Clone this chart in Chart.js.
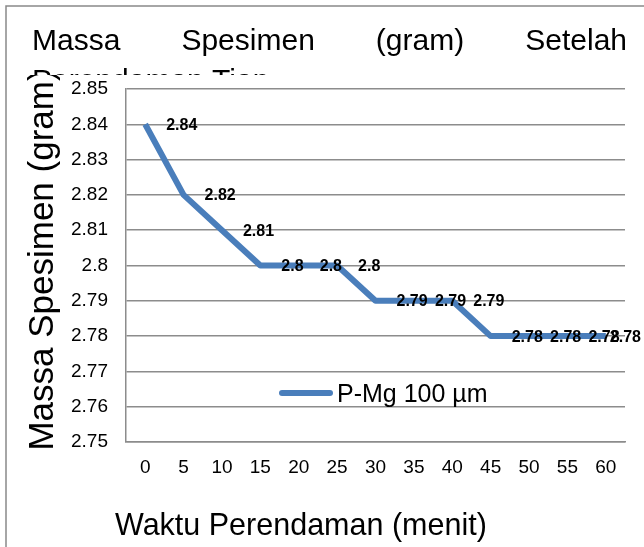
<!DOCTYPE html>
<html>
<head>
<meta charset="utf-8">
<script src="https://cdn.jsdelivr.net/npm/chart.js@4.4.1/dist/chart.umd.min.js"></script>
<style>
  html, body { margin: 0; padding: 0; background: #fff; }
  canvas { display: block; }
</style>
</head>
<body>
<canvas id="chart" width="644" height="547"></canvas>
<script>
// Chart data
var categories = ['0', '5', '10', '15', '20', '25', '30', '35', '40', '45', '50', '55', '60'];
var massValues = [2.84, 2.82, 2.81, 2.8, 2.8, 2.8, 2.79, 2.79, 2.79, 2.78, 2.78, 2.78, 2.78];
var yTickValues = [2.75, 2.76, 2.77, 2.78, 2.79, 2.8, 2.81, 2.82, 2.83, 2.84, 2.85];
var yTickLabels = ['2.75', '2.76', '2.77', '2.78', '2.79', '2.8', '2.81', '2.82', '2.83', '2.84', '2.85'];
var seriesName = 'P-Mg 100 µm';
var titleLine1 = ['Massa', 'Spesimen', '(gram)', 'Setelah'];
var titleLine2 = 'Perendaman Tiap';
var xTitle = 'Waktu Perendaman (menit)';
var yTitle = 'Massa Spesimen (gram)';

var FONT = '"Liberation Sans", Arial, sans-serif';
var LINE_COLOR = '#4a7ebb';
var GRID_COLOR = '#8c8c8c';

// Title, cover and frame drawn before the chart
var backgroundPlugin = {
    id: 'background',
    beforeDraw: function (chart) {
        var ctx = chart.ctx;
        ctx.save();
        ctx.fillStyle = '#fff';
        ctx.fillRect(0, 0, chart.width, chart.height);

        // justified first title line
        ctx.fillStyle = '#000';
        ctx.font = '30px ' + FONT;
        ctx.textBaseline = 'alphabetic';
        ctx.textAlign = 'left';
        var left = 32, right = 627;
        var total = 0;
        titleLine1.forEach(function (w) { total += ctx.measureText(w).width; });
        var gap = (right - left - total) / (titleLine1.length - 1);
        var x = left;
        titleLine1.forEach(function (w) {
            ctx.fillText(w, x, 50);
            x += ctx.measureText(w).width + gap;
        });
        ctx.fillText(titleLine2, left, 90);

        // plot area covers the second line
        ctx.fillStyle = '#fff';
        ctx.fillRect(8, 75, chart.width - 8, chart.height - 75);

        // outer frame
        ctx.strokeStyle = '#898989';
        ctx.lineWidth = 1.5;
        ctx.beginPath();
        ctx.moveTo(6, chart.height);
        ctx.lineTo(6, 6);
        ctx.lineTo(chart.width, 6);
        ctx.stroke();
        ctx.restore();
    }
};

// Data labels, legend and axis titles
var overlayPlugin = {
    id: 'overlay',
    afterDraw: function (chart) {
        var ctx = chart.ctx;
        var meta = chart.getDatasetMeta(0);
        ctx.save();

        ctx.fillStyle = '#000';
        ctx.font = 'bold 16px ' + FONT;
        ctx.textAlign = 'left';
        ctx.textBaseline = 'middle';
        meta.data.forEach(function (pt, i) {
            var txt = String(chart.data.datasets[0].data[i]);
            var w = ctx.measureText(txt).width;
            // keep label inside the chart like Excel does
            var lx = Math.min(pt.x + 21, 641 - w);
            ctx.fillText(txt, lx, pt.y + 1);
        });

        // legend inside plot
        ctx.strokeStyle = chart.data.datasets[0].borderColor;
        ctx.lineWidth = 6;
        ctx.lineCap = 'round';
        ctx.beginPath();
        ctx.moveTo(282, 393);
        ctx.lineTo(330, 393);
        ctx.stroke();
        ctx.font = '25px ' + FONT;
        ctx.textBaseline = 'alphabetic';
        ctx.fillText(chart.data.datasets[0].label, 337, 402);

        // x title
        ctx.font = '30.5px ' + FONT;
        ctx.fillText(xTitle, 115, 535);

        // y title, clipped at the top like the reference
        ctx.beginPath();
        ctx.rect(0, 75, 120, chart.height - 75);
        ctx.clip();
        ctx.translate(53, 260);
        ctx.rotate(-Math.PI / 2);
        ctx.textAlign = 'center';
        ctx.font = '35px ' + FONT;
        ctx.fillText(yTitle, 0, 0);
        ctx.restore();
    }
};

var canvas = document.getElementById('chart');
new Chart(canvas.getContext('2d'), {
    type: 'line',
    data: {
        labels: categories,
        datasets: [{
            label: seriesName,
            data: massValues,
            borderColor: LINE_COLOR,
            backgroundColor: LINE_COLOR,
            borderWidth: 6,
            borderJoinStyle: 'round',
            tension: 0,
            pointRadius: 0,
            fill: false
        }]
    },
    options: {
        responsive: false,
        animation: false,
        layout: { padding: { left: 0, top: 89, right: 19, bottom: 0 } },
        plugins: {
            legend: { display: false },
            title: { display: false },
            tooltip: { enabled: false }
        },
        scales: {
            x: {
                offset: true,
                grid: { display: false, drawTicks: false },
                border: { display: true, color: GRID_COLOR, width: 1.5 },
                ticks: {
                    color: '#000',
                    font: { family: FONT, size: 19 },
                    padding: 14,
                    maxRotation: 0,
                    autoSkip: false
                },
                afterFit: function (scale) { scale.height = 105; }
            },
            y: {
                min: 2.75,
                max: 2.85,
                grid: { color: GRID_COLOR, lineWidth: 1.5, drawTicks: false },
                border: { display: true, color: GRID_COLOR, width: 1.5 },
                ticks: {
                    color: '#000',
                    font: { family: FONT, size: 19 },
                    padding: 18,
                    callback: function (value, index) { return yTickLabels[index]; }
                },
                afterBuildTicks: function (scale) {
                    scale.ticks = yTickValues.map(function (v) { return { value: v }; });
                },
                afterFit: function (scale) { scale.width = 126; }
            }
        }
    },
    plugins: [backgroundPlugin, overlayPlugin]
});
</script>
</body>
</html>
